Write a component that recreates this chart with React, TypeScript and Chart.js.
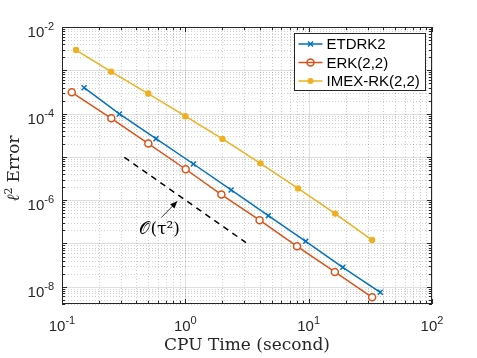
import React, { useEffect, useRef } from 'react';
import { Chart, registerables } from 'chart.js';
Chart.register(...registerables);

const seriesNames = ['ETDRK2', 'ERK(2,2)', 'IMEX-RK(2,2)'];
const seriesColors = ['#0072BD', '#D95319', '#EDB120'];
const etdrkTime = [0.151, 0.292, 0.578, 1.164, 2.35, 4.71, 9.46, 18.9, 38.1];
const etdrkErr = [3.96e-4, 9.8e-5, 2.63e-5, 6.85e-6, 1.72e-6, 4.39e-7, 1.12e-7, 2.82e-8, 7.46e-9];
const erkTime = [0.12, 0.251, 0.501, 1.007, 1.96, 4.0, 8.05, 16.3, 32.7];
const erkErr = [3.1e-4, 7.8e-5, 2.03e-5, 5.18e-6, 1.35e-6, 3.44e-7, 8.6e-8, 2.2e-8, 5.7e-9];
const imexTime = [0.13, 0.25, 0.5, 1.0, 2.0, 4.06, 8.2, 16.4, 32.7];
const imexErr = [2.94e-3, 9.3e-4, 2.9e-4, 8.7e-5, 2.6e-5, 7.1e-6, 1.87e-6, 4.9e-7, 1.2e-7];
const refTime = [0.32, 3.1];
const refErr = [9.8e-6, 1.05e-7];
const arrowTail = { x: 0.64, y: 4.0e-7 };
const arrowTip = { x: 0.86, y: 9.4e-7 };
const annotText = { x: 0.62, y: 2.1e-7, label: '𝒪(τ²)' };
const xExps = [-1, 0, 1, 2];
const yExps = [-2, -4, -6, -8];
const xMin = 0.1, xMax = 100, yMin = 4e-9, yMax = 1e-2;
const xTitle = 'CPU Time (second)';
const yTitle = 'Error';

const pts = (xs: number[], ys: number[]) => xs.map((x, i) => ({ x, y: ys[i] }));

function decadeTicks(min: number, max: number) {
  const out: { v: number; major: boolean }[] = [];
  const e0 = Math.floor(Math.log10(min));
  const e1 = Math.ceil(Math.log10(max));
  for (let e = e0; e <= e1; e++) {
    for (let m = 1; m <= 9; m++) {
      const v = m * Math.pow(10, e);
      if (v >= min * 0.9999 && v <= max * 1.0001) out.push({ v, major: m === 1 });
    }
  }
  return out;
}

const SERIF = '"DejaVu Serif", "Liberation Serif", serif';
const SANS = '"Liberation Sans", Arial, sans-serif';

const matlabPlugin = {
  id: 'matlab',
  beforeDatasetsDraw(chart: any) {
    const { ctx, chartArea: a, scales } = chart;
    const xs = scales.x, ys = scales.y;
    ctx.save();
    ctx.lineWidth = 1;
    for (const t of decadeTicks(xMin, xMax)) {
      const px = Math.round(xs.getPixelForValue(t.v)) + 0.5;
      ctx.strokeStyle = t.major ? 'rgba(38,38,38,0.15)' : 'rgba(38,38,38,0.22)';
      ctx.setLineDash(t.major ? [] : [1, 2]);
      ctx.beginPath(); ctx.moveTo(px, a.top); ctx.lineTo(px, a.bottom); ctx.stroke();
    }
    for (const t of decadeTicks(yMin, yMax)) {
      const py = Math.round(ys.getPixelForValue(t.v)) + 0.5;
      ctx.strokeStyle = t.major ? 'rgba(38,38,38,0.15)' : 'rgba(38,38,38,0.22)';
      ctx.setLineDash(t.major ? [] : [1, 2]);
      ctx.beginPath(); ctx.moveTo(a.left, py); ctx.lineTo(a.right, py); ctx.stroke();
    }
    ctx.restore();
  },
  afterDatasetsDraw(chart: any) {
    const { ctx, chartArea: a, scales } = chart;
    const xs = scales.x, ys = scales.y;
    ctx.save();
    // box
    ctx.strokeStyle = '#262626';
    ctx.lineWidth = 1;
    ctx.setLineDash([]);
    ctx.strokeRect(Math.round(a.left) + 0.5, Math.round(a.top) + 0.5, Math.round(a.right - a.left) - 1, Math.round(a.bottom - a.top) - 1);
    // ticks
    ctx.beginPath();
    for (const t of decadeTicks(xMin, xMax)) {
      const px = Math.round(xs.getPixelForValue(t.v)) + 0.5;
      const len = t.major ? 5 : 3;
      ctx.moveTo(px, a.bottom); ctx.lineTo(px, a.bottom - len);
      ctx.moveTo(px, a.top); ctx.lineTo(px, a.top + len);
    }
    for (const t of decadeTicks(yMin, yMax)) {
      const py = Math.round(ys.getPixelForValue(t.v)) + 0.5;
      const len = t.major ? 5 : 3;
      ctx.moveTo(a.left, py); ctx.lineTo(a.left + len, py);
      ctx.moveTo(a.right, py); ctx.lineTo(a.right - len, py);
    }
    ctx.stroke();
    // tick labels
    ctx.fillStyle = '#262626';
    const base = '15px ' + SANS;
    const sup = '11px ' + SANS;
    ctx.textBaseline = 'alphabetic';
    ctx.textAlign = 'left';
    for (const e of xExps) {
      const px = xs.getPixelForValue(Math.pow(10, e));
      ctx.font = base;
      const w1 = ctx.measureText('10').width;
      ctx.font = sup;
      const es = String(e);
      const w2 = ctx.measureText(es).width;
      const x0 = px - (w1 + w2) / 2;
      ctx.font = base;
      ctx.fillText('10', x0, a.bottom + 27);
      ctx.font = sup;
      ctx.fillText(es, x0 + w1, a.bottom + 20);
    }
    for (const e of yExps) {
      const py = ys.getPixelForValue(Math.pow(10, e));
      ctx.font = sup;
      const es = String(e);
      const w2 = ctx.measureText(es).width;
      ctx.font = base;
      const w1 = ctx.measureText('10').width;
      const xr = a.left - 8;
      ctx.font = base;
      ctx.fillText('10', xr - w1 - w2, py + 10);
      ctx.font = sup;
      ctx.fillText(es, xr - w2, py + 3);
    }
    // axis titles
    ctx.fillStyle = '#262626';
    ctx.font = '17px ' + SERIF;
    ctx.textAlign = 'center';
    ctx.textBaseline = 'alphabetic';
    ctx.fillText(xTitle, (a.left + a.right) / 2, a.bottom + 46);
    ctx.save();
    ctx.translate(19, (a.top + a.bottom) / 2 + 3);
    ctx.rotate(-Math.PI / 2);
    ctx.textAlign = 'left';
    ctx.font = 'italic 17px ' + SERIF;
    const lw = ctx.measureText('ℓ').width;
    ctx.font = '17px ' + SERIF;
    const tw = ctx.measureText(yTitle).width;
    ctx.font = '11px ' + SERIF;
    const sw = ctx.measureText('2').width;
    const total = lw + sw + 5 + tw;
    let cx = -total / 2;
    ctx.font = 'italic 17px ' + SERIF;
    ctx.fillText('ℓ', cx, 0); cx += lw;
    ctx.font = '11px ' + SERIF;
    ctx.fillText('2', cx, -7); cx += sw + 5;
    ctx.font = '17px ' + SERIF;
    ctx.fillText(yTitle, cx, 0);
    ctx.restore();
    // annotation arrow
    const tx = xs.getPixelForValue(arrowTail.x), ty = ys.getPixelForValue(arrowTail.y);
    const hx = xs.getPixelForValue(arrowTip.x), hy = ys.getPixelForValue(arrowTip.y);
    ctx.strokeStyle = '#000';
    ctx.fillStyle = '#000';
    ctx.lineWidth = 0.8;
    ctx.beginPath(); ctx.moveTo(tx, ty); ctx.lineTo(hx, hy); ctx.stroke();
    const ang = Math.atan2(hy - ty, hx - tx);
    const hl = 7, hw = 3;
    ctx.beginPath();
    ctx.moveTo(hx, hy);
    ctx.lineTo(hx - hl * Math.cos(ang) + hw * Math.sin(ang), hy - hl * Math.sin(ang) - hw * Math.cos(ang));
    ctx.lineTo(hx - hl * Math.cos(ang) - hw * Math.sin(ang), hy - hl * Math.sin(ang) + hw * Math.cos(ang));
    ctx.closePath(); ctx.fill();
    ctx.font = '17px ' + SERIF;
    ctx.textAlign = 'center';
    ctx.textBaseline = 'middle';
    ctx.fillText(annotText.label, xs.getPixelForValue(annotText.x), ys.getPixelForValue(annotText.y));
    // legend
    const lx = 294.5, ly = 33.5, lwid = 131, lh = 57;
    ctx.fillStyle = '#fff';
    ctx.fillRect(lx, ly, lwid, lh);
    ctx.strokeStyle = '#262626';
    ctx.lineWidth = 1;
    ctx.strokeRect(lx, ly, lwid, lh);
    const ds = chart.data.datasets.filter((d: any) => d.label);
    ds.forEach((d: any, i: number) => {
      const yy = ly + 10.5 + i * 18.5;
      ctx.strokeStyle = d.borderColor;
      ctx.lineWidth = 1.5;
      ctx.beginPath(); ctx.moveTo(lx + 4, yy); ctx.lineTo(lx + 28, yy); ctx.stroke();
      const mx = lx + 16;
      if (d.pointStyle === 'crossRot') {
        ctx.beginPath();
        ctx.moveTo(mx - 2.5, yy - 2.5); ctx.lineTo(mx + 2.5, yy + 2.5);
        ctx.moveTo(mx - 2.5, yy + 2.5); ctx.lineTo(mx + 2.5, yy - 2.5);
        ctx.stroke();
      } else if (d.pointBackgroundColor === '#fff') {
        ctx.beginPath(); ctx.arc(mx, yy, 3.5, 0, Math.PI * 2); ctx.stroke();
      } else {
        ctx.fillStyle = d.borderColor;
        ctx.beginPath(); ctx.arc(mx, yy, 3, 0, Math.PI * 2); ctx.fill();
      }
      ctx.fillStyle = '#000';
      ctx.font = '15px ' + SANS;
      ctx.textAlign = 'left';
      ctx.textBaseline = 'middle';
      ctx.fillText(d.label, lx + 32, yy + 1);
    });
    ctx.restore();
  },
};

export default function App() {
  const ref = useRef<HTMLCanvasElement>(null);
  useEffect(() => {
    if (!ref.current) return;
    const chart = new Chart(ref.current, {
      type: 'line',
      data: {
        datasets: [
          {
            label: seriesNames[0], data: pts(etdrkTime, etdrkErr), borderColor: seriesColors[0],
            backgroundColor: seriesColors[0], pointStyle: 'crossRot', pointRadius: 3.5,
            pointBorderWidth: 1.5, borderWidth: 1.5, pointBackgroundColor: seriesColors[0],
          },
          {
            label: seriesNames[1], data: pts(erkTime, erkErr), borderColor: seriesColors[1],
            backgroundColor: seriesColors[1], pointStyle: 'circle', pointRadius: 3.5,
            pointBorderWidth: 1.5, borderWidth: 1.5, pointBackgroundColor: '#fff',
          },
          {
            label: seriesNames[2], data: pts(imexTime, imexErr), borderColor: seriesColors[2],
            backgroundColor: seriesColors[2], pointStyle: 'circle', pointRadius: 3.2,
            pointBorderWidth: 0, borderWidth: 1.5, pointBackgroundColor: seriesColors[2],
          },
          {
            label: '', data: pts(refTime, refErr), borderColor: '#000', borderWidth: 1.5,
            borderDash: [6, 5], pointRadius: 0,
          },
        ],
      },
      options: {
        animation: false,
        responsive: false,
        devicePixelRatio: 1,
        layout: { padding: { left: 62, right: 45, top: 27, bottom: 54 } },
        plugins: { legend: { display: false }, tooltip: { enabled: false } },
        scales: {
          x: {
            type: 'logarithmic', min: xMin, max: xMax,
            ticks: { display: false }, grid: { display: false, drawTicks: false, tickLength: 0 },
            border: { display: false }, title: { display: false },
          },
          y: {
            type: 'logarithmic', min: yMin, max: yMax,
            ticks: { display: false }, grid: { display: false, drawTicks: false, tickLength: 0 },
            border: { display: false }, title: { display: false },
          },
        },
      },
      plugins: [matlabPlugin],
    });
    return () => chart.destroy();
  }, []);
  return (
    <div style={{ position: 'absolute', left: 0, top: 0, width: 477, height: 358, background: '#fff' }}>
      <canvas ref={ref} width={477} height={358} style={{ width: 477, height: 358 }} />
    </div>
  );
}
